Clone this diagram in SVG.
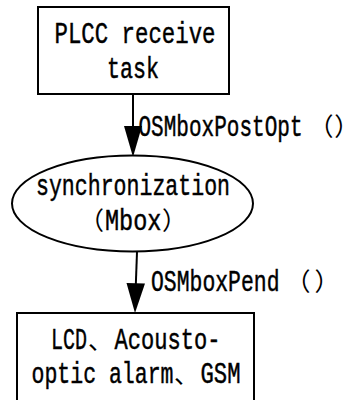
<svg xmlns="http://www.w3.org/2000/svg" width="346" height="400" viewBox="0 0 346 400">
  <style>
    .box { fill: #ffffff; stroke: #000000; stroke-width: 2; }
    .edge { fill: none; stroke: #000000; stroke-width: 2; }
    .head { fill: #000000; stroke: none; }
    .t { font-family: "Liberation Mono", "DejaVu Sans Mono", monospace; font-size: 29px; fill: #000000; stroke: #000000; stroke-width: 0.45; }
    .c { font-family: "Noto Sans CJK SC", "Noto Sans CJK JP", sans-serif; font-size: 25px; stroke-width: 0; }
  </style>
  <rect width="346" height="400" fill="#ffffff"/>

  <!-- connectors -->
  <g id="connectors">
    <g id="edge-post">
      <line class="edge" x1="133" y1="94" x2="133" y2="128"/>
      <polygon class="head" points="124,126 142,126 133,157"/>
      <text class="t" y="136"><tspan x="138.5" textLength="164" lengthAdjust="spacingAndGlyphs">OSMboxPostOpt</tspan><tspan class="c" x="303"> （</tspan><tspan class="c" x="334.3">）</tspan></text>
    </g>
    <g id="edge-pend">
      <line class="edge" x1="137" y1="252" x2="135.8" y2="285"/>
      <polygon class="head" points="126.5,283 145,283.5 135,313"/>
      <text class="t" y="291"><tspan x="151" textLength="128.5" lengthAdjust="spacingAndGlyphs">OSMboxPend</tspan><tspan class="c" x="280"> （</tspan><tspan class="c" x="314.6">）</tspan></text>
    </g>
  </g>

  <!-- PLCC receive task -->
  <g id="node-plcc">
    <rect class="box" x="38" y="7" width="191" height="87"/>
    <text class="t" y="43" x="54.5" textLength="161" lengthAdjust="spacingAndGlyphs">PLCC receive</text>
    <text class="t" y="77.5" x="107" textLength="52" lengthAdjust="spacingAndGlyphs">task</text>
  </g>

  <!-- mailbox synchronization -->
  <g id="node-mbox">
    <ellipse class="box" cx="132.5" cy="203.5" rx="120.5" ry="48"/>
    <text class="t" y="195" x="36" textLength="194" lengthAdjust="spacingAndGlyphs">synchronization</text>
    <text class="t" y="230"><tspan class="c" x="79">（</tspan><tspan x="105" textLength="56.5" lengthAdjust="spacingAndGlyphs">Mbox</tspan><tspan class="c" x="162">）</tspan></text>
  </g>

  <!-- output devices -->
  <g id="node-output">
    <rect class="box" x="17" y="313" width="237" height="100"/>
    <text class="t" y="349"><tspan x="51" textLength="36" lengthAdjust="spacingAndGlyphs">LCD</tspan><tspan class="c" x="88">、</tspan><tspan x="114.5" textLength="106" lengthAdjust="spacingAndGlyphs">Acousto-</tspan></text>
    <text class="t" y="383"><tspan x="31.5" textLength="142" lengthAdjust="spacingAndGlyphs">optic alarm</tspan><tspan class="c" x="174">、</tspan><tspan x="200.5" textLength="40" lengthAdjust="spacingAndGlyphs">GSM</tspan></text>
  </g>
</svg>
